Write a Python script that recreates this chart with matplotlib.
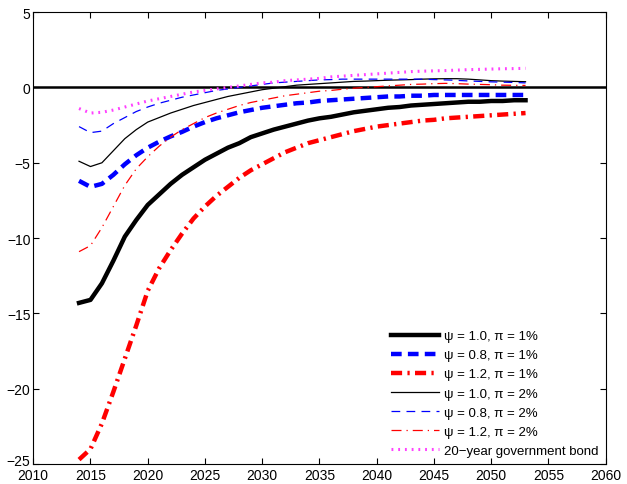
import matplotlib
matplotlib.use('Agg')
import matplotlib.pyplot as plt
from matplotlib.transforms import ScaledTranslation

plt.rcParams['font.family'] = ['Liberation Sans', 'DejaVu Sans']

years = list(range(2014, 2054))

# psi = 1.0, pi = 1%
psi10_pi1 = [-14.3, -14.1, -13.0, -11.5, -9.9, -8.8, -7.8, -7.1, -6.4, -5.8,
             -5.3, -4.8, -4.4, -4.0, -3.7, -3.3, -3.05, -2.8, -2.6, -2.4,
             -2.2, -2.05, -1.95, -1.8, -1.65, -1.55, -1.45, -1.35, -1.3, -1.2,
             -1.15, -1.1, -1.05, -1.0, -0.95, -0.95, -0.9, -0.9, -0.85, -0.85]
# psi = 0.8, pi = 1%
psi08_pi1 = [-6.2, -6.6, -6.4, -5.8, -5.1, -4.5, -4.0, -3.6, -3.25, -2.95,
             -2.6, -2.3, -2.05, -1.85, -1.65, -1.5, -1.35, -1.25, -1.15, -1.05,
             -1.0, -0.9, -0.85, -0.8, -0.75, -0.7, -0.65, -0.6, -0.6, -0.55,
             -0.55, -0.5, -0.5, -0.5, -0.5, -0.5, -0.5, -0.5, -0.5, -0.5]
# psi = 1.2, pi = 1%
psi12_pi1 = [-24.7, -24.0, -22.3, -20.2, -18.0, -15.8, -13.5, -12.0, -10.8, -9.7,
             -8.7, -7.9, -7.2, -6.6, -6.0, -5.5, -5.1, -4.7, -4.3, -4.0,
             -3.7, -3.5, -3.3, -3.1, -2.9, -2.75, -2.6, -2.5, -2.4, -2.3,
             -2.2, -2.15, -2.05, -2.0, -1.95, -1.9, -1.85, -1.8, -1.75, -1.7]
# psi = 1.0, pi = 2%
psi10_pi2 = [-4.9, -5.25, -5.0, -4.2, -3.4, -2.8, -2.3, -2.0, -1.7, -1.45,
             -1.2, -1.0, -0.8, -0.6, -0.45, -0.3, -0.15, -0.05, 0.05, 0.15,
             0.2, 0.25, 0.3, 0.35, 0.4, 0.42, 0.45, 0.48, 0.5, 0.52,
             0.55, 0.57, 0.58, 0.58, 0.55, 0.5, 0.45, 0.42, 0.4, 0.38]
# psi = 0.8, pi = 2%
psi08_pi2 = [-2.6, -3.0, -2.9, -2.4, -2.0, -1.6, -1.3, -1.05, -0.85, -0.65,
             -0.5, -0.35, -0.2, -0.1, 0.0, 0.1, 0.2, 0.3, 0.35, 0.4,
             0.45, 0.5, 0.52, 0.55, 0.55, 0.55, 0.55, 0.55, 0.55, 0.55,
             0.55, 0.52, 0.5, 0.47, 0.43, 0.4, 0.37, 0.35, 0.33, 0.3]
# psi = 1.2, pi = 2%
psi12_pi2 = [-10.9, -10.5, -9.3, -7.9, -6.5, -5.4, -4.6, -3.9, -3.3, -2.8,
             -2.4, -2.0, -1.7, -1.45, -1.2, -1.0, -0.85, -0.7, -0.55, -0.45,
             -0.35, -0.25, -0.2, -0.12, -0.05, 0.0, 0.05, 0.1, 0.15, 0.2,
             0.22, 0.25, 0.27, 0.25, 0.22, 0.2, 0.18, 0.15, 0.14, 0.13]
# 20-year government bond
bond20 = [-1.4, -1.7, -1.65, -1.5, -1.3, -1.1, -0.9, -0.75, -0.6, -0.45,
          -0.3, -0.2, -0.1, 0.0, 0.1, 0.2, 0.3, 0.35, 0.45, 0.5,
          0.55, 0.6, 0.7, 0.75, 0.8, 0.85, 0.9, 0.95, 1.0, 1.05,
          1.08, 1.1, 1.12, 1.15, 1.18, 1.2, 1.22, 1.24, 1.25, 1.27]

fig = plt.figure(figsize=(6.27, 4.85), dpi=100)
ax = fig.add_axes([0.053, 0.041, 0.913, 0.932])

ax.axhline(0, color='black', lw=1.8, zorder=1)

ax.plot(years, psi10_pi1, color='black', lw=3.2, ls='-', label='\u03c8 = 1.0, \u03c0 = 1%')
ax.plot(years, psi08_pi1, color='blue', lw=3.2, ls=(0, (2.4, 1.4)), label='\u03c8 = 0.8, \u03c0 = 1%')
ax.plot(years, psi12_pi1, color='red', lw=3.2, ls=(0, (2.5, 1.2, 0.5, 1.2)), label='\u03c8 = 1.2, \u03c0 = 1%')
ax.plot(years, psi10_pi2, color='black', lw=0.9, ls='-', label='\u03c8 = 1.0, \u03c0 = 2%')
ax.plot(years, psi08_pi2, color='blue', lw=0.9, ls=(0, (7, 5)), label='\u03c8 = 0.8, \u03c0 = 2%')
ax.plot(years, psi12_pi2, color='red', lw=0.9, ls=(0, (8, 4, 1, 4)), label='\u03c8 = 1.2, \u03c0 = 2%')
ax.plot(years, bond20, color='#ff40ff', lw=2.2, ls=(0, (0.6, 1.6)), label='20\u2212year government bond')

ax.set_xlim(2010, 2060)
ax.set_ylim(-25, 5)
ax.set_xticks(range(2010, 2061, 5))
ax.set_yticks(range(-25, 6, 5))
ax.set_yticklabels(['\u221225', '\u221220', '\u221215', '\u221210', '\u22125', '0', '5'])
ax.tick_params(direction='in', labelsize=10, length=4, top=True, right=True,
               labeltop=False, labelright=False, pad=2)
ax.tick_params(axis='x', pad=3)

# lift the lowest y label a little so it sits above the first x label
lowest = ax.get_yticklabels()[0]
lowest.set_transform(lowest.get_transform() + ScaledTranslation(0, 3 / 72, fig.dpi_scale_trans))

ax.legend(loc='lower right', frameon=False, fontsize=9.5, handlelength=3.6,
          labelspacing=0.52, borderaxespad=0.15, handletextpad=0.4,
          bbox_to_anchor=(1.0, 0.0))

fig.savefig('out.png', dpi=100)
